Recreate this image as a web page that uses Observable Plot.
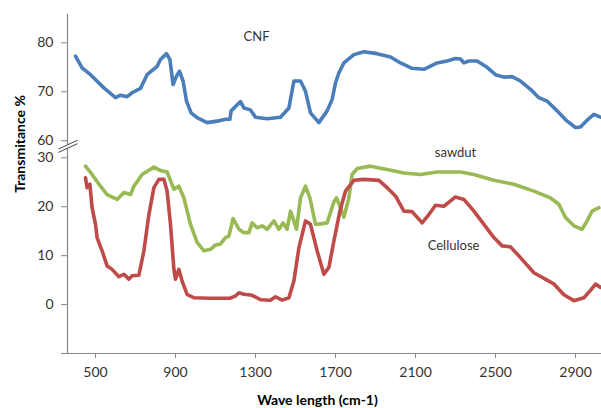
<!DOCTYPE html>
<html>
<head>
<meta charset="utf-8">
<script src="https://cdn.jsdelivr.net/npm/d3@7"></script>
<script src="https://cdn.jsdelivr.net/npm/@observablehq/plot@0.6"></script>
<style>
  html, body { margin: 0; padding: 0; background: #fff; }
  #chart svg { display: block; }
</style>
</head>
<body>
<div id="chart"></div>
<script>
// ---- data ----
const cnfWave = [400,433,475,542,600,625,658,683,725,758,808,825,855,872,888,905,920,938,955,978,1008,1058,1108,1150,1172,1178,1225,1242,1275,1300,1358,1425,1467,1492,1525,1550,1575,1617,1658,1683,1700,1717,1742,1792,1842,1908,1975,2025,2083,2142,2208,2258,2300,2325,2342,2367,2408,2458,2500,2542,2583,2625,2675,2717,2758,2808,2858,2900,2925,2958,2992,3025];
const cnfT    = [77.3,74.9,73.5,70.8,68.8,69.3,69.0,69.8,70.7,73.5,75.2,76.6,77.8,76.6,71.5,73.2,74.2,72.2,68.1,65.7,64.7,63.7,64.0,64.4,64.4,66.1,68.0,66.7,66.3,64.8,64.5,64.8,66.7,72.2,72.2,70.1,65.7,63.7,66.1,68.4,71.8,73.9,75.9,77.6,78.2,77.8,77.1,75.9,74.8,74.6,75.9,76.3,76.8,76.7,75.9,76.3,76.3,75.0,73.5,73.0,73.1,72.2,70.5,68.8,68.1,66.1,64.0,62.7,62.8,64.2,65.4,64.8];

const sawWave = [450,483,517,558,608,642,675,692,733,792,825,858,892,917,942,975,1008,1042,1075,1100,1125,1150,1167,1188,1217,1242,1267,1283,1308,1333,1358,1392,1417,1438,1458,1475,1492,1505,1525,1550,1572,1600,1625,1658,1692,1705,1725,1742,1767,1783,1808,1875,1958,2042,2125,2208,2325,2392,2492,2592,2692,2775,2817,2850,2892,2933,2958,2983,3017];
const sawT    = [28.3,26.6,24.6,22.5,21.5,22.9,22.5,24.2,26.6,28.1,27.4,27.1,23.6,24.2,21.8,16.4,12.7,11.0,11.3,12.2,12.4,13.7,14.0,17.6,15.4,14.7,14.7,16.7,15.7,16.1,15.4,17.1,15.4,16.7,15.4,19.1,17.1,15.4,21.8,24.2,21.8,16.4,16.5,16.7,21.0,21.8,19.8,17.9,21.8,26.6,27.8,28.3,27.6,26.9,26.6,27.1,27.1,26.6,25.4,24.6,23.2,21.8,20.5,17.8,16.1,15.4,17.1,19.1,19.8];

const celWave = [450,458,472,483,500,508,533,558,583,617,642,667,683,717,742,767,792,817,842,858,875,892,900,917,933,958,992,1075,1175,1200,1217,1242,1283,1325,1375,1400,1433,1467,1492,1517,1550,1575,1608,1642,1667,1692,1722,1750,1792,1842,1917,1958,2000,2042,2083,2133,2167,2200,2242,2300,2342,2392,2442,2492,2533,2575,2625,2692,2758,2792,2842,2892,2942,2975,3000,3025];
const celT    = [25.9,23.9,24.6,19.8,16.4,13.7,11.0,7.9,7.2,5.7,6.2,5.2,5.9,6.0,11.0,18.4,23.9,25.6,25.6,23.2,16.4,7.2,5.2,7.2,4.8,2.1,1.4,1.3,1.3,1.8,2.4,2.1,1.9,1.0,0.9,1.6,0.9,1.4,4.8,11.6,17.1,16.4,11.0,6.2,7.6,13.0,19.1,23.2,25.4,25.6,25.4,23.9,22.2,19.1,19.0,16.7,18.4,20.3,20.1,22.0,21.5,19.1,16.4,13.7,12.0,11.8,9.6,6.5,5.0,4.2,2.0,0.8,1.4,2.9,4.2,3.5];

const xTicks = [500, 900, 1300, 1700, 2100, 2500, 2900];
const yTicksLower = [-10, 0, 10, 20, 30];
const yTicksUpper = [60, 70, 80];
const yLabelsLower = ["", "0", "10", "20", "30"];
const yLabelsUpper = ["60", "70", "80"];

const labelNames = ["CNF", "sawdut", "Cellulose"];
const labelWave  = [1305, 2300, 2290];
const labelT     = [81.2, 31.0, 12.0];
const labelUpper = [true, false, false];

// ---- broken axis: upper segment (60–86) shifted down to sit above 30 ----
const breakShift = 26.5;
const up = v => v - breakShift;

const colors = {CNF: "#4A7EBB", sawdust: "#98B954", cellulose: "#BE4B48"};

const cnf = cnfWave.map((w, i) => ({w, y: up(cnfT[i])}));
const saw = sawWave.map((w, i) => ({w, y: sawT[i]}));
const cel = celWave.map((w, i) => ({w, y: celT[i]}));

const yTickPos = [...yTicksLower, ...yTicksUpper.map(up)];
const yTickText = [...yLabelsLower, ...yLabelsUpper];
const fmtY = d => yTickText[yTickPos.findIndex(p => Math.abs(p - d) < 1e-6)];

const labels = labelNames.map((t, i) => ({t, w: labelWave[i], y: labelUpper[i] ? up(labelT[i]) : labelT[i]}));

const xDomain = [360, 3030];
const yDomain = [-10, 59.3];
const brkY = (30 + up(60)) / 2 + 0.6;
const brk = [{x1: xDomain[0] - 45, y1: brkY - 0.9, x2: xDomain[0] + 50, y2: brkY + 0.9}];

const axisColor = "#868686";
const textColor = "#333333";

const chart = Plot.plot({
  width: 601,
  height: 408,
  marginLeft: 67,
  marginRight: 0,
  marginTop: 14,
  marginBottom: 55,
  style: {fontFamily: "Lato, 'Open Sans', sans-serif", fontSize: "14px", color: textColor, background: "#fff"},
  x: {domain: xDomain},
  y: {domain: yDomain},
  marks: [
    Plot.ruleX([xDomain[0]], {y1: yDomain[0], y2: yDomain[1], stroke: axisColor, strokeWidth: 1.2}),
    Plot.ruleY([yDomain[0]], {stroke: axisColor, strokeWidth: 1.2}),
    Plot.axisY({ticks: yTickPos, tickFormat: fmtY, tickSize: 6, tickPadding: 8, stroke: axisColor, fill: textColor, label: null}),
    Plot.axisX({ticks: xTicks, tickFormat: d => String(d), tickSize: 5, tickPadding: 9, stroke: axisColor, fill: textColor, label: null}),
    Plot.line(cnf, {x: "w", y: "y", stroke: colors.CNF, strokeWidth: 3.6}),
    Plot.line(saw, {x: "w", y: "y", stroke: colors.sawdust, strokeWidth: 3.6}),
    Plot.line(cel, {x: "w", y: "y", stroke: colors.cellulose, strokeWidth: 3.6}),
    Plot.link(brk, {x1: "x1", y1: "y1", x2: "x2", y2: "y2", stroke: "#fff", strokeWidth: 4}),
    Plot.link(brk, {x1: "x1", y1: "y1", x2: "x2", y2: "y2", stroke: "#444", strokeWidth: 1, dy: -1.7}),
    Plot.link(brk, {x1: "x1", y1: "y1", x2: "x2", y2: "y2", stroke: "#444", strokeWidth: 1, dy: 1.7}),
    Plot.text(labels, {x: "w", y: "y", text: "t", fill: textColor, fontSize: 13}),
    Plot.text(["Wave length (cm-1)"], {frameAnchor: "bottom", dx: -17, dy: 51, fontWeight: "bold", fontSize: 14, fill: "#000"}),
    Plot.text(["Transmitance %"], {frameAnchor: "left", textAnchor: "middle", rotate: -90, dx: -47, dy: -40, fontWeight: "bold", fontSize: 14, fill: "#000"})
  ]
});
document.getElementById("chart").appendChild(chart);
</script>
</body>
</html>
